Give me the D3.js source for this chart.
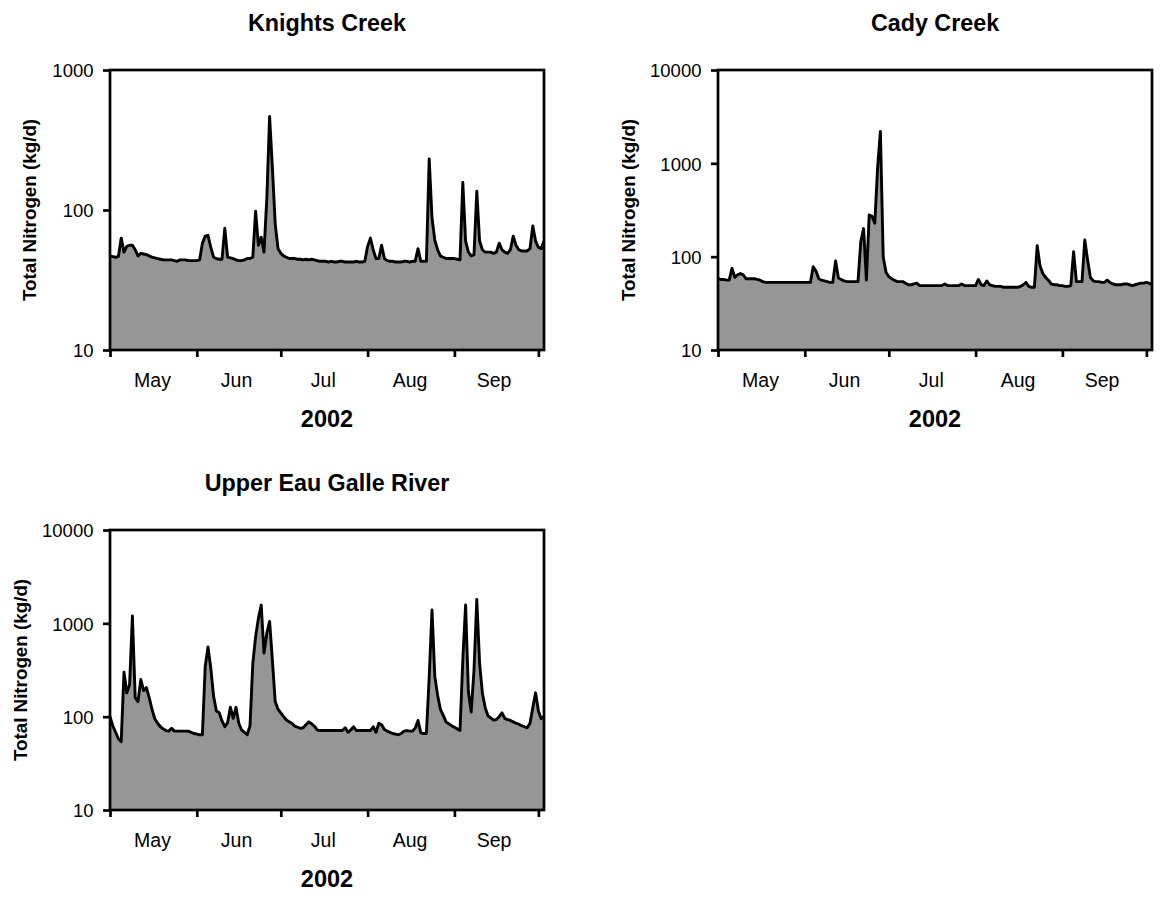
<!DOCTYPE html>
<html><head><meta charset="utf-8">
<script src="https://cdn.jsdelivr.net/npm/d3@7"></script>
<style>
body{margin:0;background:#fff}
svg{display:block}
text{font-family:"Liberation Sans",Arial,Helvetica,sans-serif;fill:#000}
</style>
</head><body>
<svg id="chart" width="1163" height="898"></svg>
<script>
// ---------- data (daily Total Nitrogen, kg/d, starting 2002-05-01) ----------
const startDate = "2002-05-01";
const yearLabel = "2002";
const yAxisTitle = "Total Nitrogen (kg/d)";
const monthTickDates = ["2002-05-01","2002-06-01","2002-07-01","2002-08-01","2002-09-01","2002-10-01"];
const monthLabels = ["May","Jun","Jul","Aug","Sep"];
const monthLabelDates = ["2002-05-16","2002-06-15","2002-07-16","2002-08-16","2002-09-15"];
const yTicksKnights = [10,100,1000];
const yTicksOther = [10,100,1000,10000];
const panelTitles = ["Knights Creek","Cady Creek","Upper Eau Galle River"];

const knightsCreek = [
 47,46.5,46,46.5,63,50,55,56,56,52,
 47,49,48.5,48,47,46,45.5,45,44.5,44,
 44,44,44,43.5,43,44,44,44,43.5,43.5,
 43.5,43.5,44,58,65,66,54,46,45,44.5,
 44.5,74,46,45.5,45,44,43.5,43.5,44,45,
 45,46,98,56,64,50,120,465,200,80,
 53,49,47,46,45,45,45,44.5,44.5,44,
 44.5,44,44.5,44,43.5,43,43,43,42.5,43,
 42.5,42.5,43,43,42.5,42.5,42.5,42.5,43,42.5,
 42.5,43,55,63,52,45,45,56,45,43.5,
 43,43,42.5,42.5,42.5,43,43,42.5,43,43,
 53,43,43,43,232,88,61,52,47,46,
 45,45,45,45,44.5,44,157,60,50,47,
 48,136,60,52,50,50,50,49,50,58,
 52,50,49,52,65,56,52,51,51,51,
 53,77,60,54,53,60
];

const cadyCreek = [
 58,57,57,56,56,75,60,64,66,64,
 58,58,58,58,57,56,54,53,53,53,
 53,53,53,53,53,53,53,53,53,53,
 53,53,53,53,78,70,58,56,55,54,
 53,53,90,59,57,55,54,54,54,54,
 54,145,200,56,280,270,228,900,2200,100,
 68,61,58,56,54,54,54,52,50,50,
 51,52,49,49,49,49,49,49,49,49,
 49,51,49,49,49,49,49,51,49,49,
 49,49,49,57,50,49,55,50,49,48,
 48,48,47,47,47,47,47,47,48,50,
 53,48,47,47,131,80,66,60,56,51,
 50,50,49,49,48,48,49,113,54,54,
 54,151,92,60,55,54,54,53,53,56,
 53,51,50,50,50,51,51,50,49,50,
 51,52,52,53,52,50
];

const upperEauGalle = [
 100,80,68,58,54,300,180,220,1200,160,
 145,250,190,205,160,120,95,85,78,74,
 71,70,75,70,70,70,70,70,70,68,
 66,65,64,64,343,560,330,165,115,110,
 90,78,86,126,96,126,85,72,68,64,
 80,370,720,1130,1570,480,780,1050,400,145,
 120,110,100,92,88,85,79,77,75,76,
 82,88,84,79,72,71,71,71,71,71,
 71,71,71,71,76,68,72,78,71,71,
 71,71,71,71,78,68,85,82,73,70,
 68,66,65,64,66,70,71,70,70,75,
 91,67,66,66,266,1390,270,170,120,104,
 88,84,80,77,74,71,405,1570,185,112,
 316,1808,373,178,125,102,97,92,93,100,
 110,96,93,91,88,85,83,80,78,76,
 85,125,180,115,95,100
];

// ---------- layout ----------
const W = 434, H = 280;
const panels = [
  {title: panelTitles[0], values: knightsCreek, yTicks: yTicksKnights, left: 110, top: 70, yTitleOffset: 74},
  {title: panelTitles[1], values: cadyCreek, yTicks: yTicksOther, left: 718, top: 70, yTitleOffset: 83},
  {title: panelTitles[2], values: upperEauGalle, yTicks: yTicksOther, left: 110, top: 530, yTitleOffset: 83}
];
const FONT = '"Liberation Sans",Arial,Helvetica,sans-serif';
const parse = d3.timeParse("%Y-%m-%d");
const start = parse(startDate);

const svg = d3.select("#chart");
svg.append("rect").attr("width",1163).attr("height",898).attr("fill","#fff");

panels.forEach((p, pi) => {
  const data = p.values.map((v, i) => ({date: d3.timeDay.offset(start, i), value: v}));
  const x = d3.scaleTime().domain([data[0].date, data[data.length-1].date]).range([0, W]);
  const y = d3.scaleLog().domain([d3.min(p.yTicks), d3.max(p.yTicks)]).range([H, 0]);

  const g = svg.append("g").attr("transform", `translate(${p.left},${p.top})`);

  const clipId = "clip" + pi;
  g.append("clipPath").attr("id", clipId).append("rect").attr("width", W).attr("height", H);

  const area = d3.area().x(d => x(d.date)).y0(H).y1(d => y(d.value));
  const line = d3.line().x(d => x(d.date)).y(d => y(d.value));

  const plot = g.append("g").attr("clip-path", `url(#${clipId})`);
  plot.append("path").datum(data).attr("d", area).attr("fill", "#969696");
  plot.append("path").datum(data).attr("d", line).attr("fill", "none")
      .attr("stroke", "#000").attr("stroke-width", 2.9).attr("stroke-linejoin", "round");

  // frame
  g.append("rect").attr("width", W).attr("height", H)
    .attr("fill", "none").attr("stroke", "#000").attr("stroke-width", 2.7);

  // x tick marks at month boundaries
  const xTicks = g.append("g").attr("transform", `translate(0,${H})`)
    .call(d3.axisBottom(x).tickValues(monthTickDates.map(parse)).tickSize(7).tickFormat(""));
  xTicks.select(".domain").remove();
  xTicks.selectAll(".tick line").attr("stroke", "#000").attr("stroke-width", 2.7);

  // month labels centred in each month
  const xLab = g.append("g").attr("transform", `translate(0,${H})`)
    .call(d3.axisBottom(x).tickValues(monthLabelDates.map(parse)).tickSize(0)
      .tickFormat((d, i) => monthLabels[i]));
  xLab.select(".domain").remove();
  xLab.attr("font-family", FONT).attr("font-size", 19.5);
  xLab.selectAll("text").attr("y", 37).attr("dy", null).attr("fill", "#000");

  // y axis
  const yAx = g.append("g")
    .call(d3.axisLeft(y).tickValues(p.yTicks).tickSize(7).tickPadding(9.5).tickFormat(d3.format("d")));
  yAx.select(".domain").remove();
  yAx.attr("font-family", FONT).attr("font-size", 18.5);
  yAx.selectAll(".tick line").attr("stroke", "#000").attr("stroke-width", 2.7);
  yAx.selectAll("text").attr("fill", "#000").attr("dy", "0.36em");

  // title
  g.append("text").attr("x", W/2).attr("y", -39.5).attr("text-anchor", "middle")
    .attr("font-size", 23.3).attr("font-weight", "bold").text(p.title);

  // x axis title
  g.append("text").attr("x", W/2).attr("y", H + 77).attr("text-anchor", "middle")
    .attr("font-size", 23.5).attr("font-weight", "bold").text(yearLabel);

  // y axis title
  g.append("text")
    .attr("transform", `translate(${-p.yTitleOffset},${H/2}) rotate(-90)`)
    .attr("text-anchor", "middle").attr("font-size", 18.8).attr("font-weight", "bold")
    .text(yAxisTitle);
});
</script>
</body></html>
